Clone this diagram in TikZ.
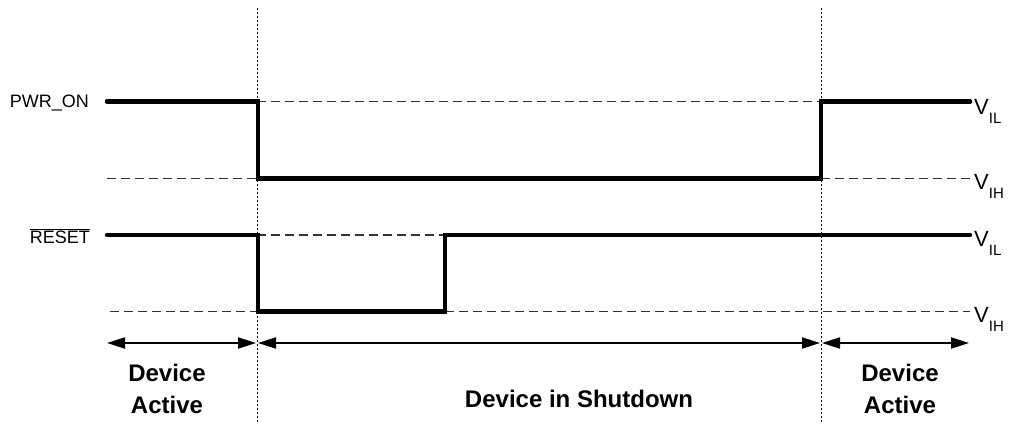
\documentclass[tikz,border=0pt]{standalone}
\usepackage{fontspec}
\setmainfont{Liberation Sans}
\usetikzlibrary{arrows.meta,positioning}
\definecolor{LevelGray}{HTML}{333333}
\tikzset{
  sig/.style={line width=4.5pt, line cap=round, line join=miter},
  lvl/.style={draw=LevelGray, line width=1.3pt, dash pattern=on 9pt off 5pt},
  edgeline/.style={line width=1pt, dash pattern=on 2pt off 2pt},
  span/.style={{Triangle[length=18pt,width=11pt]}-{Triangle[length=18pt,width=11pt]}, line width=2pt},
  siglabel/.style={font=\fontsize{18}{18}\selectfont, anchor=base east, inner sep=0pt},
  vlabel/.style={font=\fontsize{22}{22}\selectfont, anchor=base west, inner sep=0pt},
  phase/.style={font=\bfseries\fontsize{24}{32}\selectfont, align=center, anchor=north, inner sep=0pt}
}
\newcommand{\vlev}[1]{V\raisebox{-9pt}{\fontsize{15}{15}\selectfont #1}}

\begin{document}
\begin{tikzpicture}[x=1pt,y=-1pt]
\useasboundingbox (0,0) rectangle (1009,423);
% time marks
\draw[edgeline] (257,8) -- (257,423);
\draw[edgeline] (821,8) -- (821,423);

% threshold levels
\draw[lvl] (257,101.5) -- (821,101.5);
\draw[lvl] (107,178.5) -- (257,178.5);
\draw[lvl] (821,178.5) -- (970,178.5);
\draw[lvl] (257,235) -- (445,235);
\draw[lvl] (110,311.5) -- (257,311.5);
\draw[lvl] (445,311.5) -- (970,311.5);

% signals
\draw[sig] (107,101.5) -- (258,101.5) -- (258,178.5) -- (821,178.5) -- (821,101.5) -- (970,101.5);
\draw[sig] (107,235) -- (258,235) -- (258,311.5) -- (445,311.5) -- (445,235) -- (970,235);

\node[siglabel] (pwr) at (89,107.5) {PWR\_ON};
\node[siglabel] (rst) at (90,243.5) {$\overline{\mbox{RESET}}$};

\node[vlabel] (vil1) at (974,114) {\vlev{IL}};
\node[vlabel] (vih1) at (974,189) {\vlev{IH}};
\node[vlabel] (vil2) at (974,246) {\vlev{IL}};
\node[vlabel] (vih2) at (974,322) {\vlev{IH}};

% phases
\coordinate (a0) at (107,343);
\coordinate (a1) at (256,343);
\coordinate (a2) at (258,343);
\coordinate (a3) at (820,343);
\coordinate (a4) at (822,343);
\coordinate (a5) at (969,343);
\draw[span] (a0) -- (a1);
\draw[span] (a2) -- (a3);
\draw[span] (a4) -- (a5);

\node[phase] (act1) at (167,364) {Device\\Active};
\node[phase] (shut) at (579,390) {Device in Shutdown};
\node[phase] (act2) at (900,364) {Device\\Active};
\end{tikzpicture}
\end{document}
